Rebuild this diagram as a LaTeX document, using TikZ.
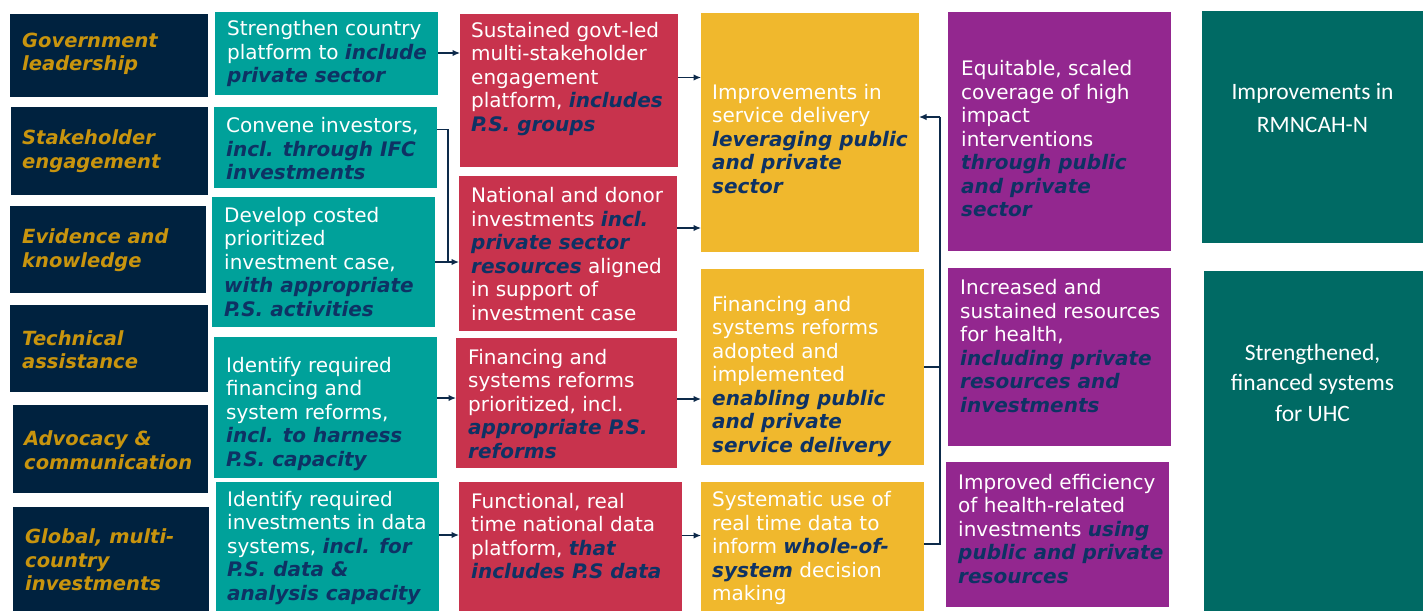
\documentclass[tikz,border=0pt]{standalone}
\usepackage{fontspec}
\setmainfont{DejaVu Sans}
\newfontfamily\calib{Carlito}
\usetikzlibrary{arrows.meta}
\definecolor{navybox}{HTML}{00223F}
\definecolor{goldtxt}{HTML}{C8940E}
\definecolor{tealbox}{HTML}{00A19A}
\definecolor{redbox}{HTML}{C8334D}
\definecolor{yelbox}{HTML}{F0B82D}
\definecolor{purpbox}{HTML}{93278F}
\definecolor{dtealbox}{HTML}{006A64}
\definecolor{embl}{HTML}{0E3264}
\definecolor{arrowc}{HTML}{0D2A4A}
\newcommand{\bi}[1]{{\bfseries\itshape\color{embl}#1}}
\tikzset{
  box/.style={rectangle, inner sep=0pt, outer sep=0pt, draw=none, anchor=north west},
  txt/.style={anchor=west, align=left, inner sep=0pt, text=white, font=\fontsize{20}{23.5}\selectfont},
  ctxt/.style={anchor=west, align=left, inner sep=0pt, text=goldtxt, font=\fontsize{19.5}{23.5}\selectfont\bfseries\itshape},
  otxt/.style={anchor=center, align=center, inner sep=0pt, text=white},
  arr/.style={draw=arrowc, line width=1.3pt, -{Latex[length=7.5pt,width=6.5pt]}},
  conn/.style={draw=arrowc, line width=1.3pt},
}
\newcommand{\bx}[6]{\node[box, fill=#2, minimum width={#5pt-#3pt}, minimum height={#6pt-#4pt}] (#1) at (#3,#4) {};}
\begin{document}
\begin{tikzpicture}[x=1pt,y=-1pt]
\useasboundingbox[fill=white] (0,0) rectangle (1423,611);
% column 1
\bx{n1}{navybox}{10}{14}{208}{97}
\bx{n2}{navybox}{11}{107}{208}{195}
\bx{n3}{navybox}{10}{206}{206}{293}
\bx{n4}{navybox}{10}{305}{208}{392}
\bx{n5}{navybox}{13}{405}{208}{493}
\bx{n6}{navybox}{13}{507}{209}{611}
% column 2
\bx{t1}{tealbox}{215}{12}{438}{95}
\bx{t2}{tealbox}{214}{107}{437}{188}
\bx{t3}{tealbox}{212}{197}{435}{327}
\bx{t4}{tealbox}{214}{337}{437}{478}
\bx{t5}{tealbox}{216}{482}{439}{611}
% column 3
\bx{r1}{redbox}{460}{14}{678}{167}
\bx{r2}{redbox}{459}{176}{677}{331}
\bx{r3}{redbox}{456}{338}{677}{468}
\bx{r4}{redbox}{459}{482}{682}{611}
% column 4
\bx{y1}{yelbox}{701}{13}{919}{252}
\bx{y2}{yelbox}{701}{269}{924}{465}
\bx{y3}{yelbox}{701}{482}{924}{611}
% column 5
\bx{p1}{purpbox}{948}{12}{1171}{251}
\bx{p2}{purpbox}{948}{268}{1171}{446}
\bx{p3}{purpbox}{946}{462}{1169}{607}
% column 6
\bx{o1}{dtealbox}{1202}{11}{1423}{243}
\bx{o2}{dtealbox}{1204}{271}{1423}{611}
% texts column 1
\node[ctxt] (g1) at (22,54) {Government\\leadership};
\node[ctxt] (g2) at (22,151) {Stakeholder\\engagement};
\node[ctxt] (g3) at (22,250) {Evidence and\\knowledge};
\node[ctxt] (g4) at (22,349.5) {Technical\\assistance};
\node[ctxt] (g5) at (24,450) {Advocacy \&\\communication};
\node[ctxt] (g6) at (25,560) {Global, multi-\\country\\investments};
% texts column 2
\node[txt] (a1) at (227,53.7) {Strengthen country\\platform to \bi{include}\\\bi{private sector}};
\node[txt] (a2) at (226,149) {Convene investors,\\\bi{incl. through IFC}\\\bi{investments}};
\node[txt] (a3) at (224,261.6) {Develop costed\\prioritized\\investment case,\\\bi{with appropriate}\\\bi{P.S. activities}};
\node[txt] (a4) at (226,413.8) {Identify required\\financing and\\system reforms,\\\bi{incl. to harness}\\\bi{P.S. capacity}};
\node[txt] (a5) at (227,548) {Identify required\\investments in data\\systems, \bi{incl. for}\\\bi{P.S. data \&}\\\bi{analysis capacity}};
% texts column 3
\node[txt] (b1) at (471,79) {Sustained govt-led\\multi-stakeholder\\engagement\\platform, \bi{includes}\\\bi{P.S. groups}};
\node[txt] (b2) at (471,254) {National and donor\\investments \bi{incl.}\\\bi{private sector}\\\bi{resources} aligned\\in support of\\investment case};
\node[txt] (b3) at (468,404) {Financing and\\systems reforms\\prioritized, incl.\\\bi{appropriate P.S.}\\\bi{reforms}};
\node[txt] (b4) at (471,536) {Functional, real\\time national data\\platform, \bi{that}\\\bi{includes P.S data}};
% texts column 4
\node[txt] (c1) at (712,139) {Improvements in\\service delivery\\\bi{leveraging public}\\\bi{and private}\\\bi{sector}};
\node[txt] (c2) at (712,376.5) {Financing and\\systems reforms\\adopted and\\implemented\\\bi{enabling public}\\\bi{and private}\\\bi{service delivery}};
\node[txt] (c3) at (712,548) {Systematic use of\\real time data to\\inform \bi{whole-of-}\\\bi{system} decision\\making};
% texts column 5
\node[txt] (d1) at (961,138.6) {Equitable, scaled\\coverage of high\\impact\\interventions\\\bi{through public}\\\bi{and private}\\\bi{sector}};
\node[txt] (d2) at (960,346) {Increased and\\sustained resources\\for health,\\\bi{including private}\\\bi{resources and}\\\bi{investments}};
\node[txt] (d3) at (958,529) {Improved efficiency\\of health-related\\investments \bi{using}\\\bi{public and private}\\\bi{resources}};
% texts column 6
\node[otxt, font=\calib\fontsize{23.5}{33}\selectfont] (e1) at (1312.5,107.5) {Improvements in\\RMNCAH-N};
\node[otxt, font=\calib\fontsize{23.5}{30.5}\selectfont] (e2) at (1312.5,382.5) {Strengthened,\\financed systems\\for UHC};
% connectors
\draw[arr] ([yshift=0.5pt]t1.east) -- ([yshift=0.5pt]t1.east -| r1.west);
\coordinate (j1) at (448,261);
\draw[conn] ([yshift=18pt]t2.east) -| (j1);
\draw[arr] (t3.east) -- (t3.east -| r2.west);
\draw[arr] ([yshift=13pt]r1.east) -- ([yshift=13pt]r1.east -| y1.west);
\draw[arr] ([yshift=25.5pt]r2.east) -- ([yshift=25.5pt]r2.east -| y1.west);
\draw[arr] ([yshift=9.5pt]t4.east) -- ([yshift=9.5pt]t4.east -| r3.west);
\draw[arr] ([yshift=4pt]r3.east) -- ([yshift=4pt]r3.east -| y2.west);
\draw[arr] ([yshift=11.5pt]t5.east) -- ([yshift=11.5pt]t5.east -| r4.west);
\draw[arr] ([yshift=11pt]r4.east) -- ([yshift=11pt]r4.east -| y3.west);
\coordinate (fb) at (940,117);
\draw[conn] ([yshift=2.5pt]y3.east) -| (fb);
\draw[conn] (y2.east) -- (y2.east -| fb);
\draw[arr] (fb) -- (fb -| y1.east);
\end{tikzpicture}
\end{document}
